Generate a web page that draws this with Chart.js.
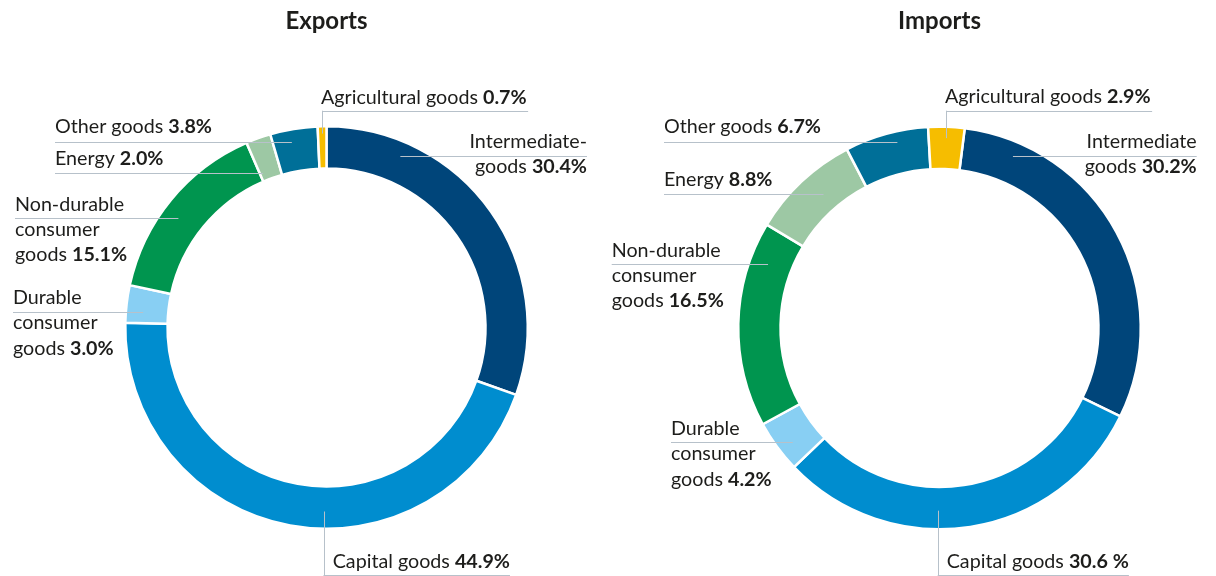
<!DOCTYPE html>
<html><head><meta charset="utf-8">
<script src="https://cdn.jsdelivr.net/npm/chart.js@4.4.1/dist/chart.umd.min.js"></script>
<style>
html,body{margin:0;padding:0;background:#fff;}
#wrap{position:relative;width:1216px;height:576px;overflow:hidden;}
.box{position:absolute;top:0;width:608px;height:576px;}
canvas{display:block;}
</style></head><body>
<div id="wrap">
  <div class="box" style="left:0"><canvas id="c1" width="608" height="576"></canvas></div>
  <div class="box" style="left:608px"><canvas id="c2" width="608" height="576"></canvas></div>
</div>
<script>
// ---- data ----
const categories = ['Intermediate goods','Capital goods','Durable consumer goods','Non-durable consumer goods','Energy','Other goods','Agricultural goods'];
const exportValues = [30.4, 44.9, 3.0, 15.1, 2.0, 3.8, 0.7];
const importValues = [30.2, 30.6, 4.2, 16.5, 8.8, 6.7, 2.9];
const exportTextLines = [['Intermediate-','goods'],['Capital goods'],['Durable','consumer','goods'],['Non-durable','consumer','goods'],['Energy'],['Other goods'],['Agricultural goods']];
const importTextLines = [['Intermediate','goods'],['Capital goods'],['Durable','consumer','goods'],['Non-durable','consumer','goods'],['Energy'],['Other goods'],['Agricultural goods']];
const exportPctLabels = ['30.4%','44.9%','3.0%','15.1%','2.0%','3.8%','0.7%'];
const importPctLabels = ['30.2%','30.6\u202F%','4.2%','16.5%','8.8%','6.7%','2.9%'];
const sliceColors = ['#00457a','#008dcf','#88cff3','#00954f','#9dc8a4','#006f98','#f6bd00'];

// ---- label layout (annotation positions relative to the doughnut centre) ----
const exportLayout = [
  {type:'h', align:'right', dx:260.5, dy:-179.5, uy:-171.8, r:187},
  {type:'bottom', dx:-3, startDy:184, tx:9.2, dy:240.5, uy:247.5},
  {type:'h', align:'left', dx:-313.5, dy:-23.5, uy:-15.8, r:184},
  {type:'h', align:'left', dx:-311.5, dy:-116.8, uy:-109.2, r:184},
  {type:'h', align:'left', dx:-271.5, dy:-162.5, uy:-154.5, r:167},
  {type:'h', align:'left', dx:-271.5, dy:-194.5, uy:-185.8, r:189},
  {type:'top', r:194, dy:-224, uy:-216.8}
];
const importLayout = [
  {type:'h', align:'right', dx:257.2, dy:-180, uy:-172.3, r:187.3},
  {type:'bottom', dx:-1.8, startDy:182.7, tx:9, dy:240, uy:247},
  {type:'h', align:'left', dx:-268.5, dy:107, uy:114.3, r:186},
  {type:'h', align:'left', dx:-327.8, dy:-71.3, uy:-64, r:183},
  {type:'h', align:'left', dx:-275.5, dy:-142, uy:-133.7, r:177},
  {type:'h', align:'left', dx:-275.5, dy:-195, uy:-186.3, r:191},
  {type:'top', r:190, dy:-225.3, uy:-217.3}
];

const FONT = 'Lato, "Noto Sans", sans-serif';
const FS = 19.7, LH = 25.3;
const TEXT_COLOR = '#1d1d1b', LINE_COLOR = '#b7c1ca';

const labelPlugin = {
  id: 'sliceLabels',
  afterDraw(chart) {
    const o = chart.options.plugins.sliceLabels;
    const ctx = chart.ctx;
    const meta = chart.getDatasetMeta(0);
    const el0 = meta.data[0];
    const cx = el0.x, cy = el0.y;
    ctx.save();
    // title
    ctx.fillStyle = TEXT_COLOR;
    ctx.font = 'bold 24px ' + FONT;
    ctx.textAlign = 'center';
    ctx.textBaseline = 'alphabetic';
    ctx.fillText(o.title, cx, 29);
    ctx.textAlign = 'left';

    const normal = FS + 'px ' + FONT, bold = 'bold ' + FS + 'px ' + FONT;
    const lineW = (txt, b) => { ctx.font = b ? bold : normal; return ctx.measureText(txt).width; };
    const drawLine = (segs, x, y, align) => {
      let total = 0;
      segs.forEach(s => total += lineW(s[0], s[1]));
      let sx = align === 'right' ? x - total : x;
      segs.forEach(s => { ctx.font = s[1] ? bold : normal; ctx.fillText(s[0], sx, y); sx += ctx.measureText(s[0]).width; });
      return total;
    };
    const hline = (x1, x2, y) => { ctx.beginPath(); const yy = Math.round(y) + 0.5; ctx.moveTo(x1, yy); ctx.lineTo(x2, yy); ctx.stroke(); };
    const vline = (x, y1, y2) => { ctx.beginPath(); const xx = Math.round(x) + 0.5; ctx.moveTo(xx, y1); ctx.lineTo(xx, y2); ctx.stroke(); };

    ctx.strokeStyle = LINE_COLOR;
    ctx.lineWidth = 1;

    o.layout.forEach((L, i) => {
      const lines = o.textLines[i].map((t, k, arr) => k === arr.length - 1 ? [[t + ' ', false], [o.pct[i], true]] : [[t, false]]);
      const el = meta.data[i];
      ctx.fillStyle = TEXT_COLOR;
      if (L.type === 'h') {
        const x = cx + L.dx, y = cy + L.dy;
        lines.forEach((segs, k) => { drawLine(segs, x, y + k * LH, L.align); });
        const side = L.align === 'right' ? 1 : -1;
        const endX = cx + side * Math.sqrt(Math.max(L.r * L.r - L.uy * L.uy, 0));
        if (L.align === 'right') hline(endX, x, cy + L.uy); else hline(x, endX, cy + L.uy);
      } else if (L.type === 'top') {
        const mid = (el.startAngle + el.endAngle) / 2;
        const px = cx + L.r * Math.cos(mid), py = cy + L.r * Math.sin(mid);
        const lx = Math.round(px) + 0.5;
        let w = 0;
        lines.forEach((segs, k) => { w = drawLine(segs, lx - 1.5, cy + L.dy + k * LH, 'left'); });
        vline(px, cy + L.uy, py);
        hline(lx - 0.5, lx + w, cy + L.uy);
      } else if (L.type === 'bottom') {
        const lx = cx + L.dx;
        let w = 0;
        lines.forEach((segs, k) => { w = drawLine(segs, lx + L.tx, cy + L.dy + k * LH, 'left'); });
        vline(lx, cy + L.startDy, chart.height);
        hline(lx, lx + L.tx + w, cy + L.uy);
      }
    });
    ctx.restore();
  }
};

function makeChart(id, values, rotation, padding, title, layout, textLines, pct) {
  return new Chart(document.getElementById(id), {
    type: 'doughnut',
    data: {
      labels: categories,
      datasets: [{
        data: values,
        backgroundColor: sliceColors,
        borderColor: '#ffffff',
        borderWidth: 2.5,
        hoverOffset: 0
      }]
    },
    options: {
      responsive: false,
      animation: false,
      cutout: '79%',
      rotation: rotation,
      layout: { padding: padding },
      events: [],
      plugins: {
        legend: { display: false },
        tooltip: { enabled: false },
        sliceLabels: { title, layout, textLines, pct }
      }
    },
    plugins: [labelPlugin]
  });
}

makeChart('c1', exportValues, 0, {left:124, right:79, top:125, bottom:46}, 'Exports', exportLayout, exportTextLines, exportPctLabels);
makeChart('c2', importValues, 7.2, {left:129, right:74, top:125.5, bottom:45.5}, 'Imports', importLayout, importTextLines, importPctLabels);
</script>
</body></html>
